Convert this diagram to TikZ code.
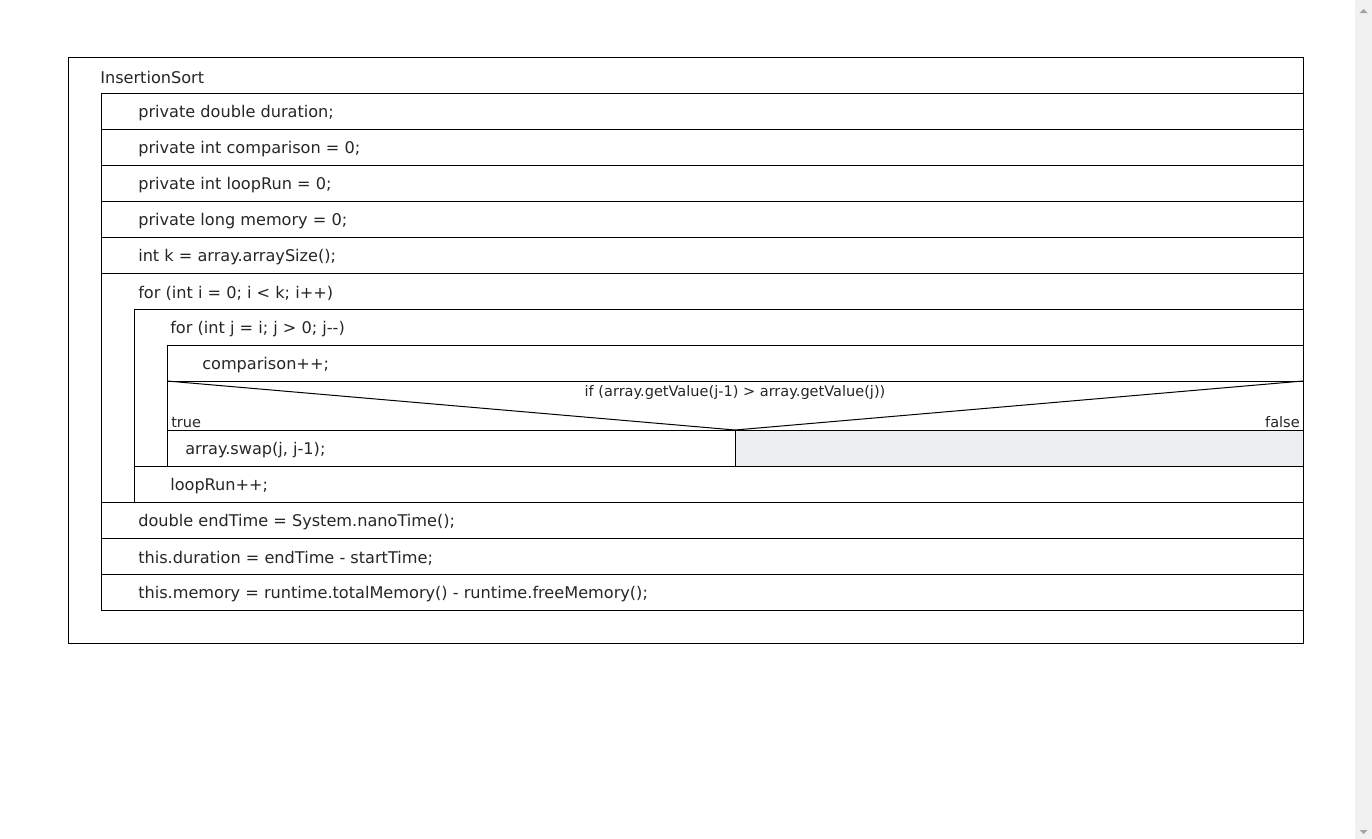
\documentclass[tikz,border=0pt]{standalone}
\usepackage{fontspec}
\setmainfont{DejaVu Sans}
\usepackage{xcolor}
\usepackage{tikz}
\usetikzlibrary{positioning}
\definecolor{emptycell}{HTML}{ECEFF0}
\definecolor{scrollbg}{HTML}{F1F1F1}
\definecolor{scrollarrow}{HTML}{A3A3A3}
\tikzset{
stmt/.style={anchor=west,inner sep=0pt,text=black!85,font=\fontsize{12.1}{14}\selectfont},
small/.style={inner sep=0pt,text=black!85,font=\fontsize{10.9}{13}\selectfont},
box/.style={draw=black,line width=0.75pt}
}
\begin{document}
\begin{tikzpicture}[x=0.75pt,y=-0.75pt]
\useasboundingbox(0,0)rectangle(1372,839);
% scrollbar
\fill[scrollbg](1355,0)rectangle(1372,839);
\fill[scrollarrow](1359.5,13)--(1363.5,9)--(1367.5,13)--cycle;
\fill[scrollarrow](1359.5,830)--(1363.5,834)--(1367.5,830)--cycle;
% empty false branch
\fill[emptycell](735,430)rectangle(1303,466);
% boxes
\draw[box](68,57)rectangle(1303,643);
\draw[box](101,93)rectangle(1303,610);
\draw[box](101,129)--(1303,129) (101,165)--(1303,165) (101,201)--(1303,201)
(101,237)--(1303,237) (101,273)--(1303,273) (101,502)--(1303,502)
(101,538)--(1303,538) (101,574)--(1303,574);
\draw[box](134,309)rectangle(1303,502);
\draw[box](167,345)rectangle(1303,466);
\draw[box](134,466)--(1303,466) (167,381)--(1303,381) (167,430)--(1303,430);
\draw[box](735,430)--(735,466);
\draw[line width=0.75pt](167,381)--(735,430)--(1303,381);
% texts
\node[stmt](title)at(100,77){InsertionSort};
\node[stmt](dur)at(138,113){private double duration;};
\node[stmt](cmp)at(138,149){private int comparison = 0;};
\node[stmt](lrun)at(138,185){private int loopRun = 0;};
\node[stmt](mem)at(138,221){private long memory = 0;};
\node[stmt](ksize)at(138,257){int k = array.arraySize();};
\node[stmt](fori)at(138,293){for (int i = 0; i < k; i++)};
\node[stmt](forj)at(170,329){for (int j = i; j > 0; j-{}-)};
\node[stmt](cmpinc)at(202,365){comparison++;};
\node[small](cond)at(735,392){if (array.getValue(j-1) > array.getValue(j))};
\node[small,anchor=west](true)at(171,422){true};
\node[small,anchor=east](false)at(1300,422){false};
\node[stmt](swap)at(185,450){array.swap(j, j-1);};
\node[stmt](lrinc)at(170,486){loopRun++;};
\node[stmt](endt)at(138,522){double endTime = System.nanoTime();};
\node[stmt](durset)at(138,558){this.duration = endTime - startTime;};
\node[stmt](memset)at(138,594){this.memory = runtime.totalMemory() - runtime.freeMemory();};
\end{tikzpicture}
\end{document}
